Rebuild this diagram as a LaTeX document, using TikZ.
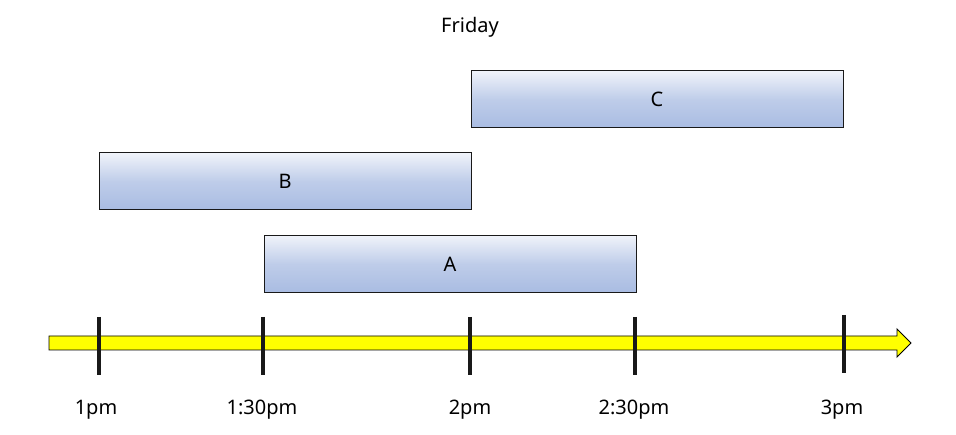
\documentclass[tikz,border=0pt]{standalone}
\usepackage{fontspec}
\setmainfont{Noto Sans}
\definecolor{boxtop}{HTML}{F0F3FA}
\definecolor{boxbot}{HTML}{A9BCE2}
\definecolor{axisyellow}{HTML}{FFFF00}
\newcommand{\tlfont}{\fontsize{20pt}{24pt}\selectfont}
\begin{document}
\begin{tikzpicture}[x=1pt,y=-1pt,
  slot/.style={draw=black!90, line width=1pt, minimum width=372pt, minimum height=57pt,
     inner sep=0pt, anchor=center, top color=boxtop, bottom color=boxbot, middle color=boxbot!70!boxtop, font=\tlfont},
  tick/.style={line width=3.5pt, black!90},
  lbl/.style={anchor=base, inner sep=0pt, font=\tlfont}]
\useasboundingbox (0,0) rectangle (956,435);
% axis arrow
\fill[axisyellow, draw=black, line width=0.9pt]
  (49,336) -- (897,336) -- (897,329) -- (911,343) -- (897,357) -- (897,350) -- (49,350) -- cycle;
% ticks
\coordinate (t1a) at (99,317);   \coordinate (t1b) at (99,375);
\coordinate (t2a) at (263,317);  \coordinate (t2b) at (263,375);
\coordinate (t3a) at (470,317);  \coordinate (t3b) at (470,375);
\coordinate (t4a) at (635,317);  \coordinate (t4b) at (635,375);
\coordinate (t5a) at (844,315);  \coordinate (t5b) at (844,373);
\draw[tick] (t1a) -- (t1b);
\draw[tick] (t2a) -- (t2b);
\draw[tick] (t3a) -- (t3b);
\draw[tick] (t4a) -- (t4b);
\draw[tick] (t5a) -- (t5b);
% labels
\node[lbl] (l1) at (96,415) {1pm};
\node[lbl] (l2) at (262,415) {1:30pm};
\node[lbl] (l3) at (470,415) {2pm};
\node[lbl] (l4) at (634,415) {2:30pm};
\node[lbl] (l5) at (842,415) {3pm};
% boxes
\node[slot] (C) at (657,99.5) {C};
\node[slot] (B) at (285,181.5) {B};
\node[slot] (A) at (450,264) {A};
% title
\node[lbl] (title) at (470,33) {Friday};
\end{tikzpicture}
\end{document}
